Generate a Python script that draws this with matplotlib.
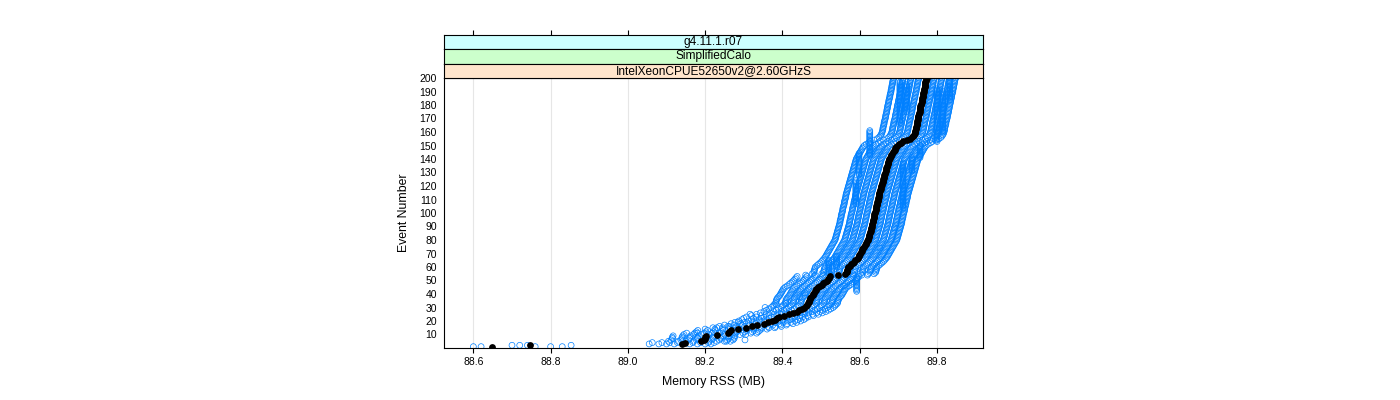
#!/usr/bin/env python3

import matplotlib
import numpy as np

matplotlib.use("Agg")
import matplotlib.pyplot as plt

plt.rcParams["font.family"] = ["Liberation Sans", "DejaVu Sans"]

# strip labels, outermost first
strip_labels = ["g4.11.1.r07", "SimplifiedCalo", "IntelXeonCPUE52650v2@2.60GHzS"]
strip_colors = ["#ccffff", "#ccffcc", "#ffe5cc"]

x_ticks = [88.6, 88.8, 89.0, 89.2, 89.4, 89.6, 89.8]
y_ticks = list(range(10, 201, 10))

# median memory RSS (MB) per event, events 1..200
median_rss = [
    88.647, 88.747, 89.140, 89.148, 89.190, 89.197, 89.200, 89.200, 89.202, 89.230,
    89.258, 89.262, 89.266, 89.285, 89.305, 89.322, 89.335, 89.352, 89.362, 89.372,
    89.380, 89.385, 89.392, 89.405, 89.418, 89.428, 89.437, 89.444, 89.450, 89.456,
    89.460, 89.463, 89.467, 89.468, 89.469, 89.470, 89.472, 89.475, 89.478, 89.480,
    89.482, 89.484, 89.486, 89.488, 89.492, 89.497, 89.502, 89.506, 89.510, 89.514,
    89.517, 89.520, 89.523, 89.545, 89.562, 89.566, 89.567, 89.568, 89.569, 89.570,
    89.574, 89.578, 89.582, 89.586, 89.589, 89.592, 89.595, 89.597, 89.599, 89.601,
    89.603, 89.605, 89.607, 89.609, 89.611, 89.613, 89.615, 89.617, 89.619, 89.621,
    89.622, 89.623, 89.624, 89.625, 89.626, 89.627, 89.628, 89.629, 89.630, 89.631,
    89.632, 89.633, 89.634, 89.634, 89.635, 89.636, 89.637, 89.637, 89.638, 89.639,
    89.640, 89.641, 89.641, 89.642, 89.643, 89.644, 89.645, 89.645, 89.646, 89.647,
    89.648, 89.649, 89.649, 89.650, 89.651, 89.652, 89.653, 89.654, 89.655, 89.656,
    89.657, 89.658, 89.659, 89.660, 89.661, 89.662, 89.663, 89.664, 89.665, 89.666,
    89.667, 89.668, 89.669, 89.670, 89.671, 89.672, 89.673, 89.674, 89.675, 89.676,
    89.678, 89.680, 89.682, 89.684, 89.686, 89.688, 89.690, 89.692, 89.694, 89.697,
    89.702, 89.708, 89.713, 89.722, 89.730, 89.735, 89.738, 89.740, 89.742, 89.743,
    89.744, 89.745, 89.745, 89.746, 89.747, 89.748, 89.748, 89.749, 89.750, 89.751,
    89.752, 89.752, 89.753, 89.754, 89.755, 89.755, 89.756, 89.757, 89.757, 89.758,
    89.759, 89.760, 89.760, 89.761, 89.762, 89.763, 89.763, 89.764, 89.765, 89.766,
    89.766, 89.767, 89.768, 89.768, 89.769, 89.770, 89.770, 89.771, 89.772, 89.773,
]

# individual runs, as offsets (MB) from the median
run_offsets = [-0.085, -0.06, -0.04, -0.02, 0.02, 0.04, 0.06, 0.075]

# runs that stayed flat over a range of events: (rss, first event, last event)
flat_runs = [
    (89.626, 143, 161), (89.598, 128, 144), (89.590, 107, 124),
    (89.704, 167, 197), (89.721, 175, 195), (89.800, 153, 192),
    (89.815, 160, 190), (89.833, 184, 197), (89.756, 141, 150),
    (89.735, 131, 141), (89.712, 104, 137), (89.592, 42, 52),
    (89.540, 60, 68), (89.520, 55, 65),
]

# scattered single points: (rss, event)
extra_rss = [88.60, 88.62, 88.70, 88.72, 88.74, 88.76, 88.80, 88.83, 88.853,
             89.152, 89.180, 89.230, 89.259, 89.285, 89.355, 89.385, 89.410,
             89.458, 89.316, 89.255, 89.303, 89.445, 89.570, 89.652, 89.690, 89.561]
extra_event = [1, 1, 2, 2, 2, 1, 1, 1, 2,
               11, 11, 15, 16, 19, 30, 32, 33,
               41, 25, 5, 6, 38, 88, 74, 89, 46]

events = np.arange(1, len(median_rss) + 1)
median = np.array(median_rss)

fig = plt.figure(figsize=(14, 4), dpi=100)
W, H = 1400.0, 400.0
left, right, top, bottom = 444, 983, 78, 348
ax = fig.add_axes([left / W, 1 - bottom / H, (right - left) / W, (bottom - top) / H])

for xt in x_ticks:
    ax.axvline(xt, color="#e6e6e6", lw=0.8, zorder=0)

blue = "#0080ff"
pt = dict(s=18, facecolors="none", edgecolors=blue, linewidths=0.5, zorder=2)
for off in run_offsets:
    ax.scatter(median[2:] + off, events[2:], **pt)
for rss, e0, e1 in flat_runs:
    ev = np.arange(e0, e1 + 1)
    ax.scatter(np.full(len(ev), rss), ev, **pt)
ax.scatter(extra_rss, extra_event, **pt)
ax.scatter(median, events, s=24, color="black", zorder=3, linewidths=0)

ax.set_xlim(88.524, 89.919)
ax.set_ylim(0, 200)
ax.set_xticks(x_ticks)
ax.set_xticklabels([f"{v:.1f}" for v in x_ticks])
ax.set_yticks(y_ticks)
ax.tick_params(axis="x", direction="out", length=3.6, width=0.8, pad=3, labelsize=7.5)
ax.tick_params(axis="y", length=0, pad=5, labelsize=7.5)
ax.set_xlabel("Memory RSS (MB)", fontsize=8.8, labelpad=6)
ax.set_ylabel("Event Number", fontsize=8.8, labelpad=7)
for sp in ax.spines.values():
    sp.set_linewidth(0.8)

# strips
strip_top = 35.0
sh = (top - strip_top) / 3
for i, (lab, col) in enumerate(zip(strip_labels, strip_colors)):
    y0 = strip_top + i * sh
    sax = fig.add_axes([left / W, 1 - (y0 + sh) / H, (right - left) / W, sh / H])
    sax.set_facecolor(col)
    sax.set_xlim(ax.get_xlim())
    sax.set_ylim(0, 1)
    sax.set_yticks([])
    sax.text(0.5, 0.5, lab, transform=sax.transAxes, ha="center", va="center",
             fontsize=8.6)
    for sp in sax.spines.values():
        sp.set_linewidth(0.8)
    if i == 0:
        sax.xaxis.tick_top()
        sax.set_xticks(x_ticks)
        sax.tick_params(axis="x", direction="out", length=3.6, width=0.8,
                        labeltop=False, labelbottom=False)
    else:
        sax.set_xticks([])

fig.savefig("out.png", dpi=100)
